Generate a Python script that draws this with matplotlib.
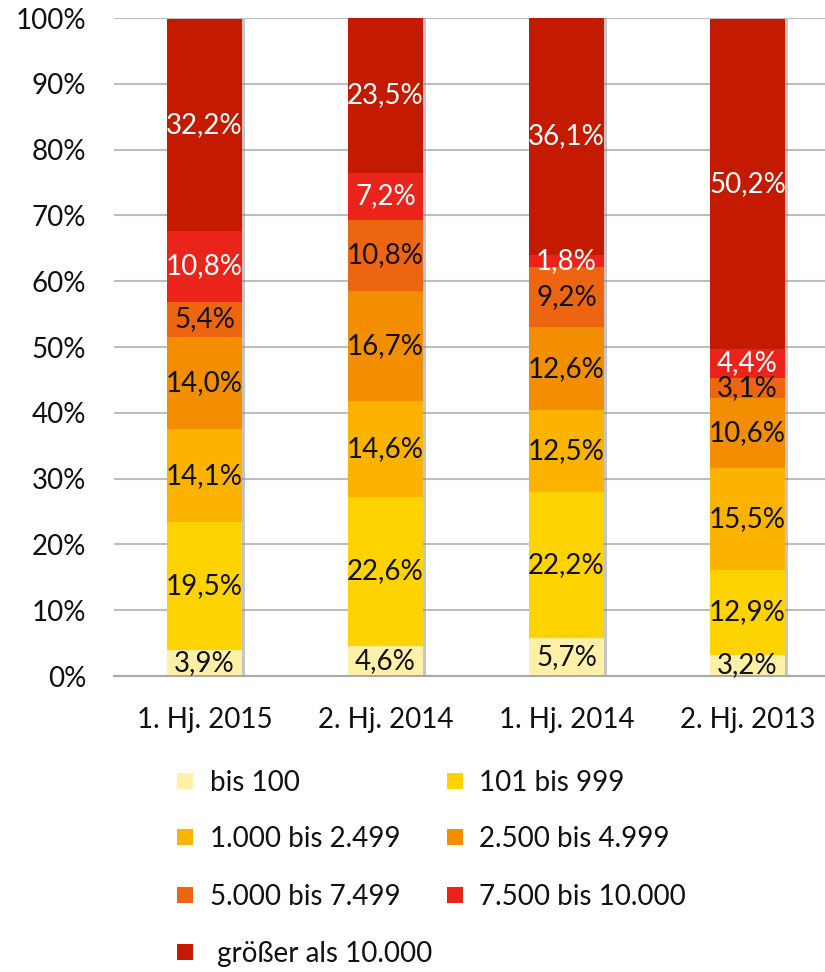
import matplotlib
matplotlib.use("Agg")
import matplotlib.pyplot as plt
import matplotlib.patheffects as pe
from matplotlib.patches import Rectangle

categories = ["1. Hj. 2015", "2. Hj. 2014", "1. Hj. 2014", "2. Hj. 2013"]
series_names = ["bis 100", "101 bis 999", "1.000 bis 2.499", "2.500 bis 4.999",
                "5.000 bis 7.499", "7.500 bis 10.000", " größer als 10.000"]
values = [
    [3.9, 4.6, 5.7, 3.2],
    [19.5, 22.6, 22.2, 12.9],
    [14.1, 14.6, 12.5, 15.5],
    [14.0, 16.7, 12.6, 10.6],
    [5.4, 10.8, 9.2, 3.1],
    [10.8, 7.2, 1.8, 4.4],
    [32.2, 23.5, 36.1, 50.2],
]
labels = [
    ["3,9%", "4,6%", "5,7%", "3,2%"],
    ["19,5%", "22,6%", "22,2%", "12,9%"],
    ["14,1%", "14,6%", "12,5%", "15,5%"],
    ["14,0%", "16,7%", "12,6%", "10,6%"],
    ["5,4%", "10,8%", "9,2%", "3,1%"],
    ["10,8%", "7,2%", "1,8%", "4,4%"],
    ["32,2%", "23,5%", "36,1%", "50,2%"],
]
colors = ["#FFF0A8", "#FFD300", "#FBB300", "#F28E00", "#EE6511", "#EA241A", "#C41A00"]
text_colors = ["#111111"] * 5 + ["white", "white"]
yticks = [0, 10, 20, 30, 40, 50, 60, 70, 80, 90, 100]
ytick_labels = [f"{t}%" for t in yticks]

plt.rcParams['font.family'] = ['Lato', 'DejaVu Sans']
FS = 20
W, H = 825, 972
fig = plt.figure(figsize=(W / 100, H / 100), dpi=100)
ax = fig.add_axes([114 / W, 1 - 676 / H, 1 - 114 / W, (676 - 18) / H])

x = list(range(len(categories)))
bottoms = [0.0] * len(categories)
shadow = [pe.SimplePatchShadow(offset=(2.2, 0), shadow_rgbFace="#808080", alpha=0.45), pe.Normal()]
for vals, lab, col, tcol in zip(values, labels, colors, text_colors):
    bars = ax.bar(x, vals, width=0.414, bottom=bottoms, color=col, zorder=3)
    for b in bars:
        b.set_path_effects(shadow)
    ax.bar_label(bars, labels=lab, label_type="center", color=tcol, fontsize=FS,
                 zorder=5)
    bottoms = [b0 + v for b0, v in zip(bottoms, vals)]

ax.set_ylim(0, 100)
ax.set_xlim(-0.5, 3.428)
ax.set_yticks(yticks)
ax.set_yticklabels(ytick_labels, fontsize=FS, color="#111111")
ax.set_xticks(x)
ax.set_xticklabels(categories, fontsize=FS, color="#111111")
ax.tick_params(axis="y", length=0, pad=20)
ax.tick_params(axis="x", length=0, pad=22)
ax.grid(axis="y", color="#BEBEBE", linewidth=1.5, zorder=0)
for s in ["top", "right", "left"]:
    ax.spines[s].set_visible(False)
ax.spines["bottom"].set_color("#A8A8A8")
ax.spines["bottom"].set_linewidth(1.5)
ax.spines["bottom"].set_zorder(4)

# legend (row-wise, two columns)
mark_x = [177, 447]
text_x = [210, 479]
row_y = [781, 837, 895, 952]
for i, (name, col) in enumerate(zip(series_names, colors)):
    r, c = divmod(i, 2)
    yc = row_y[r]
    fig.patches.append(Rectangle((mark_x[c] / W, 1 - (yc + 8) / H), 16 / W, 16 / H,
                                 transform=fig.transFigure, facecolor=col,
                                 edgecolor="none"))
    fig.text(text_x[c] / W, 1 - (yc + 2) / H, name, fontsize=FS,
             color="#111111", va="center", ha="left")

fig.savefig("out.png", dpi=100)
